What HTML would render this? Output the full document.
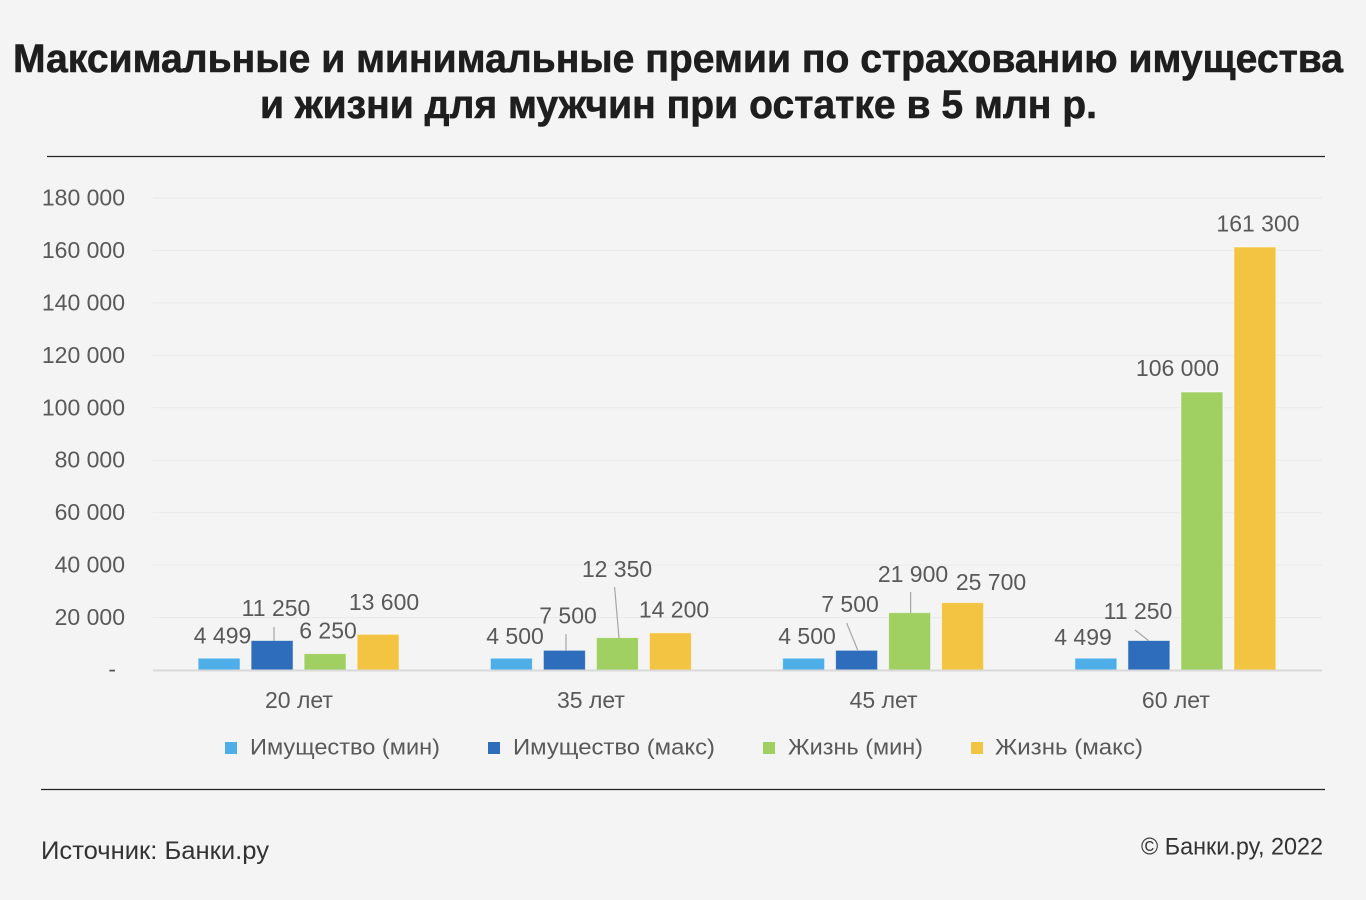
<!DOCTYPE html>
<html>
<head>
<meta charset="utf-8">
<style>
  html,body{margin:0;padding:0;background:#f4f4f4;}
  svg{display:block;}
  text{font-family:"Liberation Sans","Noto Sans CJK SC",sans-serif;}
</style>
</head>
<body>
<svg width="1366" height="900" viewBox="0 0 1366 900" xmlns="http://www.w3.org/2000/svg">
  <rect x="0" y="0" width="1366" height="900" fill="#f4f4f4"/>

  <!-- Title -->
  <g font-weight="bold" font-size="40" fill="#1e1e1e" stroke="#1e1e1e" stroke-width="0.6">
    <text x="13" y="72" textLength="1330" lengthAdjust="spacingAndGlyphs">Максимальные и минимальные премии по страхованию имущества</text>
    <text x="260" y="118" textLength="837" lengthAdjust="spacingAndGlyphs">и жизни для мужчин при остатке в 5 млн р.</text>
  </g>
  <line x1="47" y1="156.5" x2="1325" y2="156.5" stroke="#222" stroke-width="1.2"/>

  <!-- Gridlines -->
  <g stroke="#e9e9e9" stroke-width="1">
    <line x1="153" y1="198" x2="1322" y2="198"/>
    <line x1="153" y1="250.4" x2="1322" y2="250.4"/>
    <line x1="153" y1="302.9" x2="1322" y2="302.9"/>
    <line x1="153" y1="355.3" x2="1322" y2="355.3"/>
    <line x1="153" y1="407.8" x2="1322" y2="407.8"/>
    <line x1="153" y1="460.2" x2="1322" y2="460.2"/>
    <line x1="153" y1="512.7" x2="1322" y2="512.7"/>
    <line x1="153" y1="565.1" x2="1322" y2="565.1"/>
    <line x1="153" y1="617.6" x2="1322" y2="617.6"/>
  </g>

  <!-- Y tick labels -->
  <g font-size="23" fill="#595959" text-anchor="end">
    <text x="125" y="205.5">180 000</text>
    <text x="125" y="257.9">160 000</text>
    <text x="125" y="310.4">140 000</text>
    <text x="125" y="362.8">120 000</text>
    <text x="125" y="415.3">100 000</text>
    <text x="125" y="467.7">80 000</text>
    <text x="125" y="520.2">60 000</text>
    <text x="125" y="572.6">40 000</text>
    <text x="125" y="625.1">20 000</text>
    <text x="116" y="677">-</text>
  </g>

  <!-- Bars -->
  <g stroke="#ffffff" stroke-opacity="0.55" stroke-width="1">
    <!-- 20 лет -->
    <rect x="198.1" y="658.2" width="42" height="11.8" fill="#4eaeea"/>
    <rect x="251.1" y="640.5" width="42" height="29.5" fill="#2e6dbb"/>
    <rect x="304.1" y="653.6" width="42" height="16.4" fill="#a0cf62"/>
    <rect x="357.1" y="634.3" width="42" height="35.7" fill="#f3c342"/>
    <!-- 35 лет -->
    <rect x="490.4" y="658.2" width="42" height="11.8" fill="#4eaeea"/>
    <rect x="543.4" y="650.3" width="42" height="19.7" fill="#2e6dbb"/>
    <rect x="596.4" y="637.6" width="42" height="32.4" fill="#a0cf62"/>
    <rect x="649.4" y="632.8" width="42" height="37.2" fill="#f3c342"/>
    <!-- 45 лет -->
    <rect x="782.6" y="658.2" width="42" height="11.8" fill="#4eaeea"/>
    <rect x="835.6" y="650.3" width="42" height="19.7" fill="#2e6dbb"/>
    <rect x="888.6" y="612.6" width="42" height="57.4" fill="#a0cf62"/>
    <rect x="941.6" y="602.6" width="42" height="67.4" fill="#f3c342"/>
    <!-- 60 лет -->
    <rect x="1074.9" y="658.2" width="42" height="11.8" fill="#4eaeea"/>
    <rect x="1127.9" y="640.5" width="42" height="29.5" fill="#2e6dbb"/>
    <rect x="1180.9" y="392" width="42" height="278" fill="#a0cf62"/>
    <rect x="1233.9" y="247" width="42" height="423" fill="#f3c342"/>
  </g>

  <!-- Axis line -->
  <line x1="153" y1="670.5" x2="1322" y2="670.5" stroke="#d9d9d9" stroke-width="2"/>

  <!-- Leader lines -->
  <g stroke="#a6a6a6" stroke-width="1.2">
    <line x1="274" y1="627" x2="274" y2="641"/>
    <line x1="566" y1="634" x2="566" y2="651"/>
    <line x1="614.6" y1="587" x2="619" y2="638"/>
    <line x1="846.6" y1="623" x2="857.7" y2="650"/>
    <line x1="910.6" y1="592" x2="910.6" y2="613"/>
    <line x1="1135" y1="630" x2="1149" y2="641"/>
  </g>

  <!-- Data labels -->
  <g font-size="23" fill="#595959" text-anchor="middle">
    <text x="222.5" y="643.5">4 499</text>
    <text x="276" y="616">11 250</text>
    <text x="328" y="638.5">6 250</text>
    <text x="384" y="610">13 600</text>

    <text x="515" y="644">4 500</text>
    <text x="568" y="623.5">7 500</text>
    <text x="617" y="577">12 350</text>
    <text x="674" y="617.5">14 200</text>

    <text x="807" y="644">4 500</text>
    <text x="850" y="612">7 500</text>
    <text x="913" y="582">21 900</text>
    <text x="991" y="590">25 700</text>

    <text x="1083" y="645">4 499</text>
    <text x="1138" y="619">11 250</text>
    <text x="1177.5" y="376">106 000</text>
    <text x="1258" y="231.5">161 300</text>
  </g>

  <!-- Category labels -->
  <g font-size="23" fill="#595959" text-anchor="middle">
    <text x="299" y="708">20 лет</text>
    <text x="591" y="708">35 лет</text>
    <text x="883.6" y="708">45 лет</text>
    <text x="1175.9" y="708">60 лет</text>
  </g>

  <!-- Legend -->
  <rect x="225" y="742" width="12" height="12" fill="#4eaeea"/>
  <rect x="488" y="742" width="12" height="12" fill="#2e6dbb"/>
  <rect x="763" y="742" width="12" height="12" fill="#a0cf62"/>
  <rect x="971" y="742" width="12" height="12" fill="#f3c342"/>
  <g font-size="22" fill="#595959">
    <text x="250" y="754.5" textLength="190" lengthAdjust="spacingAndGlyphs">Имущество (мин)</text>
    <text x="513" y="754.5" textLength="202" lengthAdjust="spacingAndGlyphs">Имущество (макс)</text>
    <text x="788" y="754.5" textLength="135" lengthAdjust="spacingAndGlyphs">Жизнь (мин)</text>
    <text x="995" y="754.5" textLength="148" lengthAdjust="spacingAndGlyphs">Жизнь (макс)</text>
  </g>

  <line x1="41" y1="789.5" x2="1325" y2="789.5" stroke="#222" stroke-width="1.2"/>

  <!-- Footer -->
  <text x="41" y="859" font-size="25" fill="#333" textLength="228" lengthAdjust="spacingAndGlyphs">Источник: Банки.ру</text>
  <text x="1141" y="854.5" font-size="24" fill="#333" textLength="182" lengthAdjust="spacingAndGlyphs">© Банки.ру, 2022</text>
</svg>
</body>
</html>
